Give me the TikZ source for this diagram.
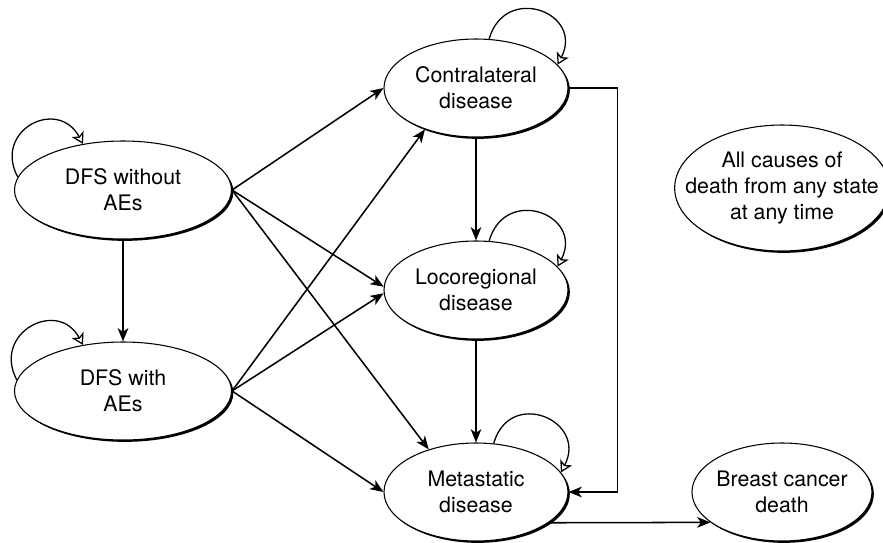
\documentclass[tikz,border=0pt]{standalone}
\usepackage{fontspec}
\setmainfont{TeX Gyre Heros}
\usetikzlibrary{arrows.meta,shapes.geometric,shadows}
\begin{document}
\begin{tikzpicture}[x=0.75pt,y=-0.75pt,
  state/.style={ellipse, draw=black, line width=0.8pt, fill=white, inner ysep=0pt, inner xsep=-6pt,
    minimum width=#1, minimum height=73.5pt, align=center, font=\fontsize{16}{19.5}\selectfont,
    drop shadow={shadow xshift=1.4pt, shadow yshift=-1.4pt, fill=black, opacity=1}},
  state/.default=138pt,
  arr/.style={line width=1.15pt, -{Stealth[length=10pt,width=8pt,inset=2.8pt]}},
  selfloop/.style={line width=0.95pt, -{Stealth[fill=white,length=8.5pt,width=10pt,inset=2.2pt]}}]
\useasboundingbox (0,0) rectangle (883,543);
\node[state=162.75pt] (dfsno) at (123,190) {DFS without\\AEs};
\node[state=162.75pt] (dfsae) at (123,391) {DFS with\\AEs};
\node[state] (contra) at (476,88) {Contralateral\\disease};
\node[state] (loco) at (476,290) {Locoregional\\disease};
\node[state] (meta) at (476,492) {Metastatic\\disease};
\node[state=135pt] (bcd) at (782,492) {Breast cancer\\death};
\node[state=161pt, minimum height=94.5pt, inner xsep=-20pt] (all) at (782,188) {All causes of\\death from any state\\at any time};

\draw[arr] (dfsno.east) -- (contra.west);
\draw[arr] (dfsno.east) -- (loco.178);
\draw[arr] (dfsno.east) -- (meta.138);
\draw[arr] (dfsae.east) -- (contra.219);
\draw[arr] (dfsae.east) -- (loco.182);
\draw[arr] (dfsae.east) -- (meta.west);
\draw[arr] (dfsno.south) -- (dfsae.north);
\draw[arr] (contra.south) -- (loco.north);
\draw[arr] (loco.south) -- (meta.north);
\draw[arr] (contra.east) -- ++(49,0) |- (meta.east);
\draw[arr] (meta.-23) -- (bcd.203);

\draw[selfloop] (contra.75) .. controls +(16,-56) and +(27,-52) .. (contra.16);
\draw[selfloop] (loco.75) .. controls +(16,-56) and +(27,-52) .. (loco.16);
\draw[selfloop] (meta.70) .. controls +(16,-56) and +(27,-52) .. (meta.13);
\draw[selfloop] (dfsno.173) .. controls +(-25,-47) and +(-25,-47) .. (dfsno.131);
\draw[selfloop] (dfsae.174) .. controls +(-25,-47) and +(-25,-47) .. (dfsae.131);
\end{tikzpicture}
\end{document}
